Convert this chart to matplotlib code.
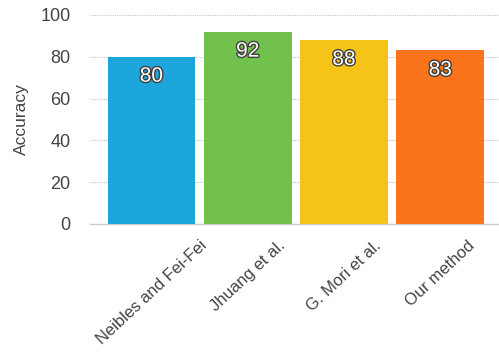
import matplotlib
matplotlib.use("Agg")
import matplotlib.pyplot as plt
import matplotlib.patheffects as pe

methods = ["Neibles and Fei-Fei", "Jhuang et al.", "G. Mori et al.", "Our method"]
accuracy = [80, 92, 88, 83]
colors = ["#1ca6dc", "#73c14d", "#f6c418", "#fb731b"]

plt.rcParams["font.family"] = ["Liberation Sans", "DejaVu Sans"]

fig = plt.figure(figsize=(4.99, 3.56), dpi=100)
ax = fig.add_axes([0.18, 0.371, 0.82, 0.587])

x = range(len(methods))
bars = ax.bar(x, accuracy, width=0.91, color=colors, zorder=3)

# value labels inside the bars, white with a dark outline
for b, v in zip(bars, accuracy):
    ax.annotate(str(v), (b.get_x() + b.get_width() / 2, v),
                xytext=(0, -14), textcoords="offset points",
                ha="center", va="center", color="white", fontsize=15,
                path_effects=[pe.withStroke(linewidth=2, foreground="#404040")],
                zorder=4)

ax.set_xlim(-0.64, 3.61)
ax.set_ylim(0, 100)
ax.set_yticks([0, 20, 40, 60, 80, 100])
ax.yaxis.grid(True, linestyle=(0, (1, 1)), color="#c4c4c4", linewidth=0.8, zorder=0)

ax.set_xticks(list(x))
ax.set_xticklabels(methods, rotation=43, ha="center", fontsize=12, color="#444444")
ax.tick_params(axis="y", labelsize=13, labelcolor="#444444", length=0, pad=14)
ax.tick_params(axis="x", length=0, pad=10)

for s in ["top", "right", "left"]:
    ax.spines[s].set_visible(False)
ax.spines["bottom"].set_color("#cccccc")
ax.spines["bottom"].set_linewidth(1.0)

ax.set_ylabel("Accuracy", fontsize=12.5, color="#444444", labelpad=8)

fig.savefig("out.png", dpi=100)
